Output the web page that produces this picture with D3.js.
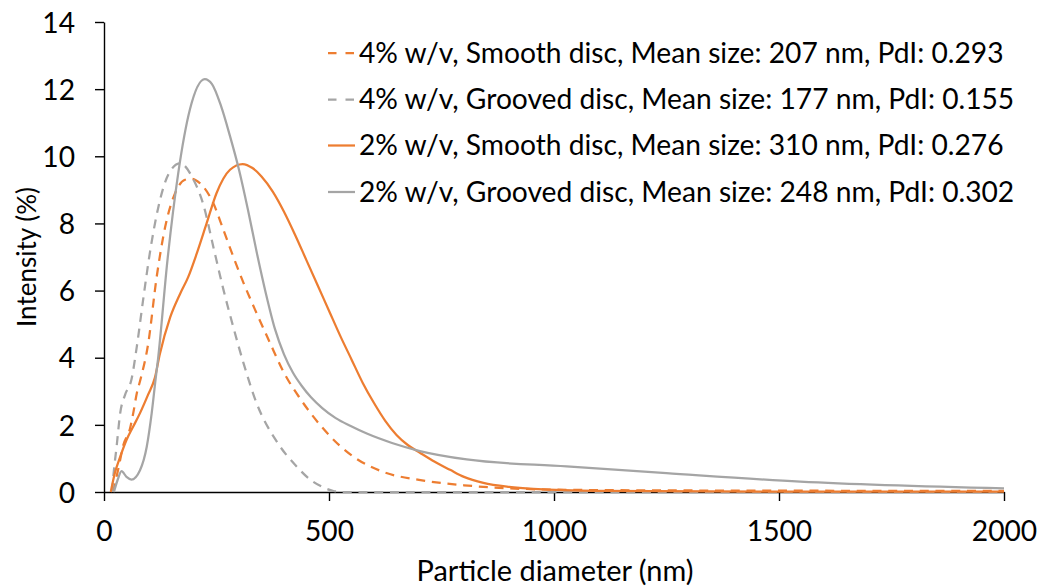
<!DOCTYPE html>
<html>
<head>
<meta charset="utf-8">
<script src="https://cdn.jsdelivr.net/npm/d3@7"></script>
<style>
  html, body { margin: 0; padding: 0; background: #ffffff; }
  svg { display: block; }
  text { font-family: Lato, "Open Sans", sans-serif; fill: #000; }
</style>
</head>
<body>
<svg id="chart" width="1037" height="587"></svg>
<script>
// ---------- data ----------
const xTicks = [0, 500, 1000, 1500, 2000];
const yTicks = [0, 2, 4, 6, 8, 10, 12, 14];
const xTitle = "Particle diameter (nm)";
const yTitle = "Intensity (%)";

const seriesNames = [
  "4% w/v, Smooth disc, Mean size: 207 nm, PdI: 0.293",
  "4% w/v, Grooved disc, Mean size: 177 nm, PdI: 0.155",
  "2% w/v, Smooth disc, Mean size: 310 nm, PdI: 0.276",
  "2% w/v, Grooved disc, Mean size: 248 nm, PdI: 0.302"
];
const seriesColors = ["#ED7D31", "#A5A5A5", "#ED7D31", "#A5A5A5"];
const seriesDashed = [true, true, false, false];

// [diameter nm, intensity %]
const smooth4 = [[20,0],[32,0.7],[43,1.4],[58,1.9],[65,2.35],[73,2.95],[80,3.3],[98,4.4],[117,6.4],[136,7.9],[158,8.9],[180,9.3],[195,9.33],[213,9.2],[243,8.6],[265,7.82],[287,7.02],[310,6.23],[339,5.33],[369,4.44],[398,3.6],[436,2.78],[480,2.0],[524,1.38],[560,1.0],[620,0.6],[700,0.36],[800,0.2],[900,0.11],[1000,0.07],[1200,0.05],[1500,0.04],[2000,0.03]];
const grooved4 = [[18,0],[21,0.5],[28,1.35],[36,2.35],[47,2.9],[61,3.35],[73,4.34],[87,5.73],[102,7.13],[121,8.5],[143,9.46],[169,9.79],[199,9.3],[221,8.55],[243,7.3],[265,6.05],[287,4.93],[310,3.84],[339,2.65],[384,1.5],[428,0.76],[460,0.35],[487,0.14],[510,0.03],[530,0],[1000,0],[1500,0],[2000,0]];
const smooth2 = [[15,0],[24,0.56],[36,1.05],[50,1.55],[65,1.95],[80,2.35],[98,2.9],[113,3.4],[124,4.1],[147,5.2],[169,5.9],[187,6.4],[206,7.1],[228,8.0],[250,8.9],[280,9.6],[308,9.77],[330,9.65],[350,9.4],[375,8.95],[400,8.35],[425,7.65],[450,6.9],[475,6.15],[500,5.4],[525,4.65],[550,3.95],[575,3.25],[600,2.65],[625,2.12],[650,1.7],[675,1.4],[702,1.17],[735,0.9],[769,0.66],[800,0.45],[843,0.27],[900,0.15],[954,0.09],[1100,0.03],[1500,0.01],[2000,0.01]];
const grooved2 = [[22,0],[30,0.35],[39,0.62],[50,0.45],[61,0.37],[80,0.65],[95,1.35],[106,2.35],[115,3.4],[120,3.95],[141,6.9],[165,9.5],[191,11.4],[224,12.3],[240,12.15],[260,11.5],[280,10.6],[300,9.6],[320,8.4],[340,7.1],[360,5.9],[380,4.85],[400,4.1],[420,3.55],[440,3.15],[460,2.82],[485,2.5],[515,2.2],[547,1.97],[584,1.74],[640,1.46],[702,1.22],[806,0.97],[1028,0.76],[1250,0.56],[1547,0.31],[2000,0.11]];
const seriesData = [smooth4, grooved4, smooth2, grooved2];

// ---------- layout ----------
const svg = d3.select("#chart");
const plot = { left: 104, right: 1004, top: 22, bottom: 492 };

const x = d3.scaleLinear().domain([0, 2000]).range([plot.left, plot.right]);
const y = d3.scaleLinear().domain([0, 14]).range([plot.bottom, plot.top]);

// axes
const xAxis = svg.append("g")
  .attr("transform", `translate(0,${plot.bottom})`)
  .call(d3.axisBottom(x).tickValues(xTicks).tickSize(9).tickSizeOuter(0).tickFormat(d3.format("d")));
const yAxis = svg.append("g")
  .attr("transform", `translate(${plot.left},0)`)
  .call(d3.axisLeft(y).tickValues(yTicks).tickSize(9).tickSizeOuter(0).tickFormat(d3.format("d")));

[xAxis, yAxis].forEach(g => {
  g.select(".domain").attr("stroke", "#000").attr("stroke-width", 1.4);
  g.selectAll(".tick line").attr("stroke", "#000").attr("stroke-width", 1.4);
  g.selectAll("text").attr("font-family", "Lato").attr("fill", "#000");
});

// series lines
const line = d3.line().x(d => x(d[0])).y(d => y(d[1])).curve(d3.curveMonotoneX);
seriesData.forEach((data, i) => {
  svg.append("path")
    .datum(data)
    .attr("d", line)
    .attr("fill", "none")
    .attr("stroke", seriesColors[i])
    .attr("stroke-width", 2.25)
    .attr("stroke-linejoin", "round")
    .attr("stroke-dasharray", seriesDashed[i] ? "9,6.75" : null);
});

// legend
const legendY = [53, 99.5, 145.5, 192];
const legendG = svg.append("g");
const legendTexts = [];
seriesNames.forEach((name, i) => {
  legendG.append("line")
    .attr("x1", 328).attr("x2", 355)
    .attr("y1", legendY[i]).attr("y2", legendY[i])
    .attr("stroke", seriesColors[i])
    .attr("stroke-width", 2.25)
    .attr("stroke-dasharray", seriesDashed[i] ? "8.5,9" : null);
  legendTexts.push(legendG.append("text")
    .attr("x", 359).attr("y", legendY[i])
    .attr("dy", "0.35em")
    .attr("font-size", 24)
    .text(name));
});

// fit font sizes to measured widths in the reference
const base = legendTexts[0];
const w0 = base.node().getComputedTextLength();
const fs = 24 * 645 / w0;
legendTexts.forEach(t => t.attr("font-size", fs));

xAxis.selectAll(".tick text").attr("font-size", fs).attr("dy", null).attr("y", 49);
yAxis.selectAll(".tick text").attr("font-size", fs).attr("dy", "0.36em").attr("x", -29);

const xt = svg.append("text")
  .attr("x", (plot.left + plot.right) / 2 + 1).attr("y", 581)
  .attr("text-anchor", "middle").attr("font-size", 24).text(xTitle);
xt.attr("font-size", 24 * 277 / xt.node().getComputedTextLength());

const yt = svg.append("text")
  .attr("transform", `translate(36,${(plot.top + plot.bottom) / 2}) rotate(-90)`)
  .attr("text-anchor", "middle").attr("font-size", 24).text(yTitle);
yt.attr("font-size", 24 * 140 / yt.node().getComputedTextLength());
</script>
</body>
</html>
